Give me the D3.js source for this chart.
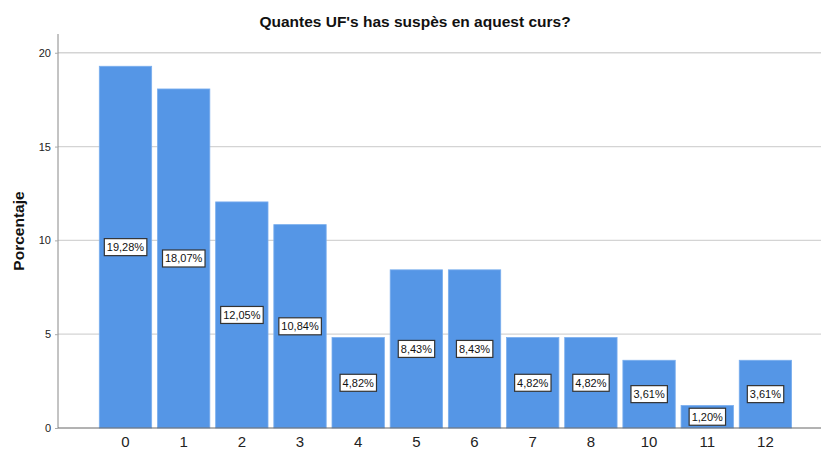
<!DOCTYPE html>
<html>
<head>
<meta charset="utf-8">
<script src="https://cdn.jsdelivr.net/npm/d3@7"></script>
<style>
  body { margin: 0; background: #fff; }
  text { font-family: "Liberation Sans", Arial, sans-serif; }
</style>
</head>
<body>
<div id="chart"></div>
<script>
const categories = ["0", "1", "2", "3", "4", "5", "6", "7", "8", "10", "11", "12"];
const values = [19.28, 18.07, 12.05, 10.84, 4.82, 8.43, 8.43, 4.82, 4.82, 3.61, 1.20, 3.61];
const yTicks = [0, 5, 10, 15, 20];

const width = 821, height = 453;
const plotLeft = 58, plotRight = 821, plotTop = 34, plotBottom = 428;

const svg = d3.select("#chart")
    .append("svg")
    .attr("width", width)
    .attr("height", height);

const x = d3.scaleBand()
    .domain(categories)
    .range([99.3, 791.6])
    .paddingInner(0.1)
    .paddingOuter(0);

const y = d3.scaleLinear()
    .domain([0, 21])
    .range([plotBottom, plotTop]);

// gridlines
svg.append("g")
    .selectAll("line")
    .data(yTicks.filter(d => d > 0))
    .enter()
    .append("line")
    .attr("x1", plotLeft)
    .attr("x2", plotRight)
    .attr("y1", d => y(d))
    .attr("y2", d => y(d))
    .attr("stroke", "#d4d4d4")
    .attr("stroke-width", 1.3);

// bars
svg.selectAll(".bar")
    .data(values)
    .enter()
    .append("rect")
    .attr("class", "bar")
    .attr("x", (d, i) => x(categories[i]))
    .attr("y", d => y(d))
    .attr("width", x.bandwidth())
    .attr("height", d => plotBottom - y(d))
    .attr("fill", "#5596e6")
    .attr("stroke", "#7aaeee")
    .attr("stroke-width", 0.8);

// axes
const yAxis = svg.append("g")
    .attr("transform", `translate(${plotLeft},0)`)
    .call(d3.axisLeft(y).tickValues(yTicks).tickSize(3).tickPadding(4));
yAxis.select(".domain").attr("stroke", "#888").attr("d", `M0,${plotTop}V${plotBottom}`);
yAxis.selectAll(".tick line").attr("stroke", "#aaa");
yAxis.selectAll("text").attr("font-size", 11).attr("fill", "#222")
    .attr("font-family", "Liberation Sans, Arial, sans-serif");

svg.append("line")
    .attr("x1", plotLeft).attr("x2", plotRight)
    .attr("y1", plotBottom).attr("y2", plotBottom)
    .attr("stroke", "#666")
    .attr("stroke-width", 1);

const xAxis = svg.append("g")
    .attr("transform", `translate(0,${plotBottom})`)
    .call(d3.axisBottom(x).tickSize(0).tickPadding(8));
xAxis.select(".domain").remove();
xAxis.selectAll("text").attr("font-size", 15).attr("fill", "#222")
    .attr("font-family", "Liberation Sans, Arial, sans-serif");

// value labels
const labels = svg.selectAll(".lab")
    .data(values)
    .enter()
    .append("g")
    .attr("class", "lab")
    .attr("transform", (d, i) => `translate(${x(categories[i]) + x.bandwidth() / 2},${y(d / 2)})`);

labels.append("text")
    .attr("text-anchor", "middle")
    .attr("dy", "0.35em")
    .attr("font-size", 11)
    .attr("fill", "#111")
    .text(d => d.toFixed(2).replace(".", ",") + "%");

labels.each(function() {
    const g = d3.select(this);
    const bb = g.select("text").node().getBBox();
    g.insert("rect", "text")
        .attr("x", bb.x - 2.5)
        .attr("y", -8.5)
        .attr("width", bb.width + 5)
        .attr("height", 17)
        .attr("fill", "#fff")
        .attr("stroke", "#333")
        .attr("stroke-width", 1.2);
});

// title and axis label
svg.append("text")
    .attr("x", 415)
    .attr("y", 27)
    .attr("text-anchor", "middle")
    .attr("font-size", 15.5)
    .attr("font-weight", "bold")
    .attr("fill", "#111")
    .text("Quantes UF's has suspès en aquest curs?");

svg.append("text")
    .attr("transform", "rotate(-90)")
    .attr("x", -231)
    .attr("y", 24)
    .attr("text-anchor", "middle")
    .attr("font-size", 15.5)
    .attr("font-weight", "bold")
    .attr("fill", "#111")
    .text("Porcentaje");
</script>
</body>
</html>
